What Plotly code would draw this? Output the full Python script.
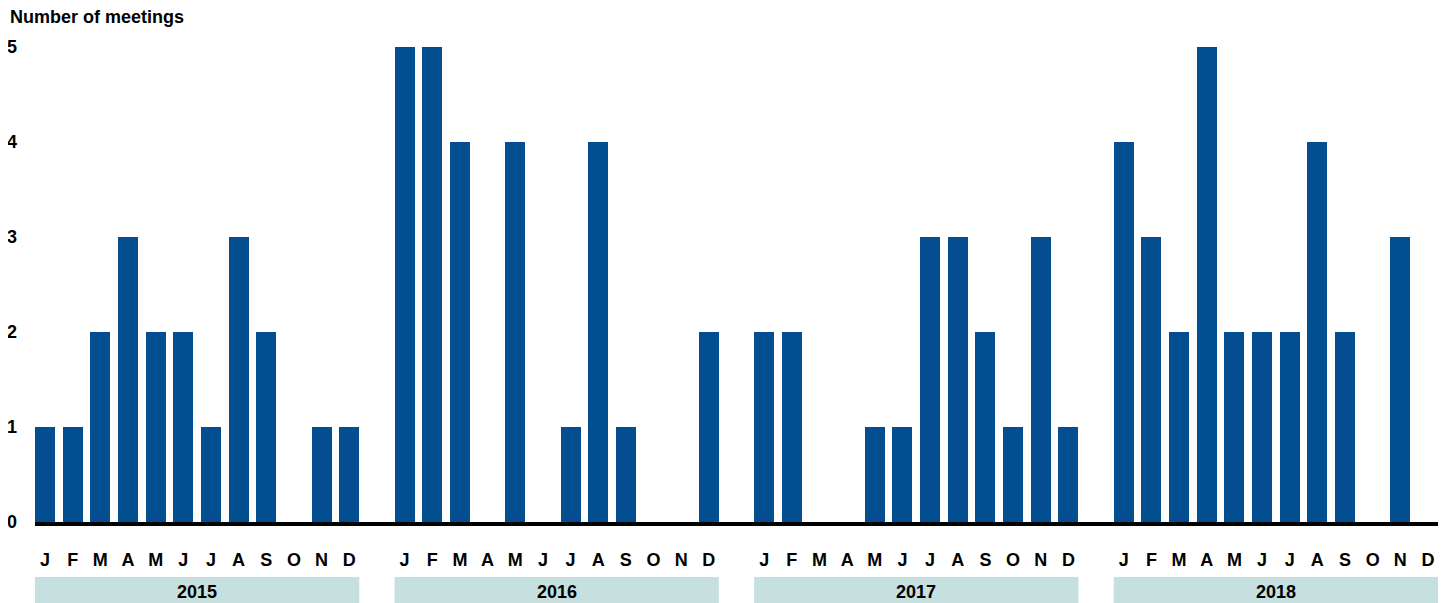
import plotly.graph_objects as go

years = ["2015", "2016", "2017", "2018"]
months = ["J", "F", "M", "A", "M", "J", "J", "A", "S", "O", "N", "D"]
meetings_2015 = [1, 1, 2, 3, 2, 2, 1, 3, 2, 0, 1, 1]
meetings_2016 = [5, 5, 4, 0, 4, 0, 1, 4, 1, 0, 0, 2]
meetings_2017 = [2, 2, 0, 0, 1, 1, 3, 3, 2, 1, 3, 1]
meetings_2018 = [4, 3, 2, 5, 2, 2, 2, 4, 2, 0, 3, 0]
series = [meetings_2015, meetings_2016, meetings_2017, meetings_2018]
y_ticks = [0, 1, 2, 3, 4, 5]

BAR = "#034e90"
BAND = "#c5e0df"
SLOTS_PER_YEAR = 13
BW = 0.723

xs, ys, tickvals, ticktext = [], [], [], []
for k, vals in enumerate(series):
    for m, v in enumerate(vals):
        pos = k * SLOTS_PER_YEAR + m
        xs.append(pos)
        ys.append(v)
        tickvals.append(pos)
        ticktext.append(months[m])

fig = go.Figure()
fig.add_trace(go.Bar(x=xs, y=ys, width=BW, marker=dict(color=BAR, line=dict(width=0)),
                     hoverinfo="x+y"))

font = dict(family="Liberation Sans, Arial, sans-serif", size=18, color="#000000")

# page body has an 8px margin; figure is sized to the visible area
W, H = 1439, 595
L, T, R = 27, 39, 9
PH = 475
PW = W - L - R
B = H - T - PH

shapes, annotations = [], []
for k, yr in enumerate(years):
    x0 = k * SLOTS_PER_YEAR - BW / 2
    x1 = k * SLOTS_PER_YEAR + 11 + BW / 2
    shapes.append(dict(type="rect", xref="x", yref="paper", x0=x0, x1=x1,
                       y0=-(604 - 8 - (T + PH)) / PH, y1=-(577 - 8 - (T + PH)) / PH,
                       fillcolor=BAND, line=dict(width=0), layer="below"))
    annotations.append(dict(xref="x", yref="paper", x=k * SLOTS_PER_YEAR + 5.5,
                            y=-(592 - 8 - (T + PH)) / PH,
                            text="<b>%s</b>" % yr, showarrow=False, font=font,
                            xanchor="center", yanchor="middle"))

annotations.append(dict(xref="paper", yref="paper", x=-(L - 0) / PW, y=1 + 30 / PH,
                        text="<b>Number of meetings</b>", showarrow=False, font=font,
                        xanchor="left", yanchor="middle"))

fig.update_layout(
    width=W, height=H,
    margin=dict(l=L, r=R, t=T, b=B, autoexpand=False),
    plot_bgcolor="white", paper_bgcolor="white",
    showlegend=False, bargap=0,
    shapes=shapes, annotations=annotations,
    font=font,
    xaxis=dict(range=[-BW / 2, 3 * SLOTS_PER_YEAR + 11 + BW / 2],
               tickmode="array", tickvals=tickvals, ticktext=["<b>%s</b>" % t for t in ticktext],
               showgrid=False, zeroline=False, showline=True, linecolor="black", linewidth=4,
               ticks="", ticklabelstandoff=18, tickfont=font, fixedrange=True, automargin=False),
    yaxis=dict(range=[0, 5], tickmode="array", tickvals=y_ticks,
               ticktext=["<b>%d</b>" % t for t in y_ticks],
               showgrid=False, zeroline=False, showline=False, ticks="",
               ticklabelstandoff=17, tickfont=font, fixedrange=True, automargin=False),
)

fig.write_html("out.html")
